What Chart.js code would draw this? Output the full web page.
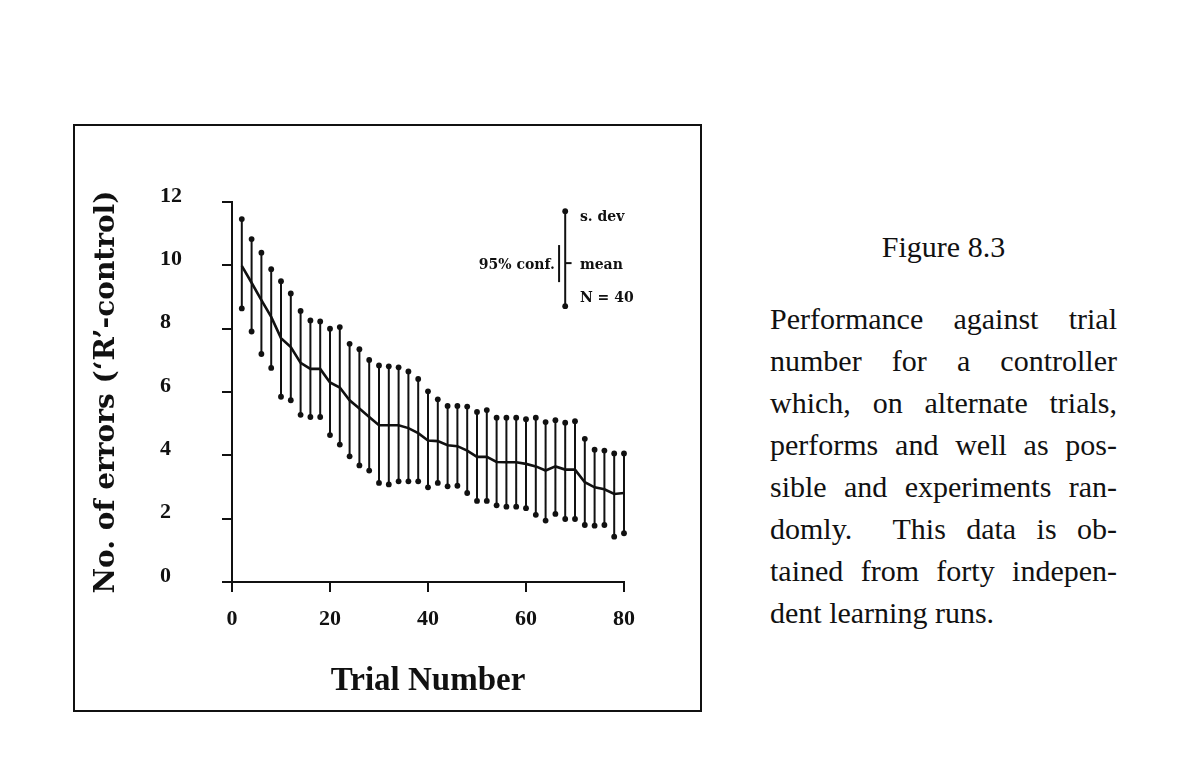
<!DOCTYPE html>
<html>
<head>
<meta charset="utf-8">
<script src="https://cdn.jsdelivr.net/npm/chart.js@4.4.1/dist/chart.umd.min.js"></script>
<style>
  html, body { margin: 0; padding: 0; background: #fff; }
  body { width: 1198px; height: 772px; position: relative; overflow: hidden; }
  #frame { position: absolute; left: 73px; top: 124px; width: 625px; height: 584px; border: 2px solid #111; }
  #chart { position: absolute; left: 0; top: 0; }
  .cap { position: absolute; left: 770px; width: 347px; font-family: "Liberation Serif", serif; font-size: 30px; line-height: 42px; color: #111; }
  #figTitle { top: 226px; text-align: center; }
  #para { top: 298px; }
  #para div { text-align: justify; text-align-last: justify; }
  #para div.last { text-align-last: left; }
</style>
</head>
<body>
<div id="frame"><canvas id="chart" width="625" height="584"></canvas></div>
<div class="cap" id="figTitle">Figure 8.3</div>
<div class="cap" id="para">
  <div>Performance against trial</div>
  <div>number for a controller</div>
  <div>which, on alternate trials,</div>
  <div>performs and well as pos-</div>
  <div>sible and experiments ran-</div>
  <div>domly.&nbsp; This data is ob-</div>
  <div>tained from forty indepen-</div>
  <div class="last">dent learning runs.</div>
</div>
<script>
(function () {
  "use strict";

  // trial number of each plotted point (every second trial)
  const trials = [2, 4, 6, 8, 10, 12, 14, 16, 18, 20, 22, 24, 26, 28, 30, 32, 34, 36, 38, 40,
                  42, 44, 46, 48, 50, 52, 54, 56, 58, 60, 62, 64, 66, 68, 70, 72, 74, 76, 78, 80];

  // mean number of errors
  const meanErrors = [9.98, 9.45, 8.90, 8.37, 7.70, 7.42, 6.92, 6.73, 6.73, 6.30,
                      6.14, 5.74, 5.48, 5.21, 4.95, 4.95, 4.95, 4.86, 4.70, 4.47,
                      4.45, 4.32, 4.29, 4.15, 3.95, 3.95, 3.79, 3.78, 3.78, 3.73,
                      3.65, 3.52, 3.65, 3.55, 3.55, 3.15, 2.99, 2.93, 2.78, 2.81];

  // mean + s.dev / mean - s.dev
  const sdUpper = [11.46, 10.83, 10.40, 9.88, 9.50, 9.11, 8.56, 8.26, 8.23, 8.00,
                   8.05, 7.52, 7.35, 7.01, 6.84, 6.81, 6.78, 6.65, 6.41, 6.02,
                   5.77, 5.56, 5.56, 5.54, 5.37, 5.43, 5.19, 5.19, 5.19, 5.14,
                   5.19, 5.05, 5.11, 5.03, 5.08, 4.52, 4.18, 4.15, 4.06, 4.06];
  const sdLower = [8.64, 7.91, 7.20, 6.76, 5.85, 5.74, 5.28, 5.21, 5.21, 4.64,
                   4.34, 3.97, 3.68, 3.52, 3.13, 3.08, 3.18, 3.18, 3.18, 2.99,
                   3.13, 3.02, 3.04, 2.81, 2.56, 2.56, 2.42, 2.38, 2.38, 2.33,
                   2.12, 1.94, 2.15, 1.99, 1.99, 1.80, 1.78, 1.80, 1.43, 1.54];

  const xTicks = [0, 20, 40, 60, 80];
  const yTicks = [0, 2, 4, 6, 8, 10, 12];

  // key in the upper right corner (data units)
  const keyX = 68;
  const keySd = [8.71, 11.71];
  const keyMean = 10.07;
  const keyMeanEnd = 69.3;
  const keyConfX = 66.75;
  const keyConf = [9.47, 10.64];
  const keyLabels = [
    { text: "s. dev",    x: 71.0, y: 11.53, align: "left" },
    { text: "mean",      x: 71.0, y: 10.01, align: "left" },
    { text: "N = 40",    x: 71.0, y: 8.96,  align: "left" },
    { text: "95% conf.", x: 65.9, y: 10.01, align: "right" }
  ];

  const INK = "#111";
  const tickFont = { family: "'Liberation Serif', serif", size: 22, weight: "bold" };

  // vertical s.dev bars: low, high, gap
  const barPoints = [];
  trials.forEach((t, i) => {
    barPoints.push({ x: t, y: sdLower[i] }, { x: t, y: sdUpper[i] }, { x: t, y: null });
  });

  const keyTextPlugin = {
    id: "keyText",
    afterDatasetsDraw(chart) {
      const { ctx, scales: { x, y } } = chart;
      ctx.save();
      ctx.font = "bold 14px 'DejaVu Serif', serif";
      ctx.fillStyle = INK;
      ctx.textBaseline = "middle";
      keyLabels.forEach(l => {
        ctx.textAlign = l.align;
        ctx.fillText(l.text, x.getPixelForValue(l.x), y.getPixelForValue(l.y));
      });
      ctx.restore();
    }
  };

  new Chart(document.getElementById("chart"), {
    type: "line",
    data: {
      datasets: [
        { data: barPoints, borderColor: INK, borderWidth: 2, pointRadius: 2.9,
          pointBackgroundColor: INK, pointBorderWidth: 0, spanGaps: false, clip: false },
        { data: trials.map((t, i) => ({ x: t, y: meanErrors[i] })), borderColor: INK,
          borderWidth: 2.6, pointRadius: 0, clip: false },
        { data: [{ x: keyX, y: keySd[0] }, { x: keyX, y: keySd[1] }], borderColor: INK,
          borderWidth: 2, pointRadius: 2.9, pointBackgroundColor: INK, pointBorderWidth: 0, clip: false },
        { data: [{ x: keyX, y: keyMean }, { x: keyMeanEnd, y: keyMean }], borderColor: INK,
          borderWidth: 2, pointRadius: 0, clip: false },
        { data: [{ x: keyConfX, y: keyConf[0] }, { x: keyConfX, y: keyConf[1] }], borderColor: INK,
          borderWidth: 2, pointRadius: 0, clip: false }
      ]
    },
    options: {
      responsive: false,
      animation: false,
      devicePixelRatio: 1,
      layout: { padding: { top: 76, right: 76, left: 0, bottom: 0 } },
      plugins: { legend: { display: false }, tooltip: { enabled: false } },
      scales: {
        x: {
          type: "linear", min: 0, max: 80,
          afterBuildTicks: s => { s.ticks = xTicks.map(v => ({ value: v })); },
          ticks: { color: INK, font: tickFont, padding: 14 },
          grid: { drawOnChartArea: false, drawTicks: true, tickLength: 10, color: INK, lineWidth: 2 },
          border: { color: INK, width: 2 },
          title: { display: true, text: "Trial Number", color: INK,
                   font: { family: "'Liberation Serif', serif", size: 33, weight: "bold" },
                   padding: { top: 0, bottom: 9 } },
          afterFit: s => { s.height = 128; }
        },
        y: {
          type: "linear", position: "left", weight: 0, min: 0, max: 12,
          afterBuildTicks: s => { s.ticks = yTicks.map(v => ({ value: v })); },
          ticks: { color: INK, font: tickFont, crossAlign: "far", labelOffset: -6 },
          grid: { drawOnChartArea: false, drawTicks: true, tickLength: 10, color: INK, lineWidth: 2 },
          border: { color: INK, width: 2 },
          afterFit: s => { s.width = 72; }
        },
        yTitle: {
          type: "linear", position: "left", weight: 1,
          ticks: { display: false }, grid: { display: false }, border: { display: false },
          title: { display: true, text: "No. of errors (\u2018R\u2019-control)", color: INK,
                   font: { family: "'DejaVu Serif', serif", size: 28, weight: "bold" },
                   padding: { top: 15, bottom: 0 } },
          afterFit: s => { s.width = 85; }
        }
      }
    },
    plugins: [keyTextPlugin]
  });
})();
</script>
</body>
</html>
